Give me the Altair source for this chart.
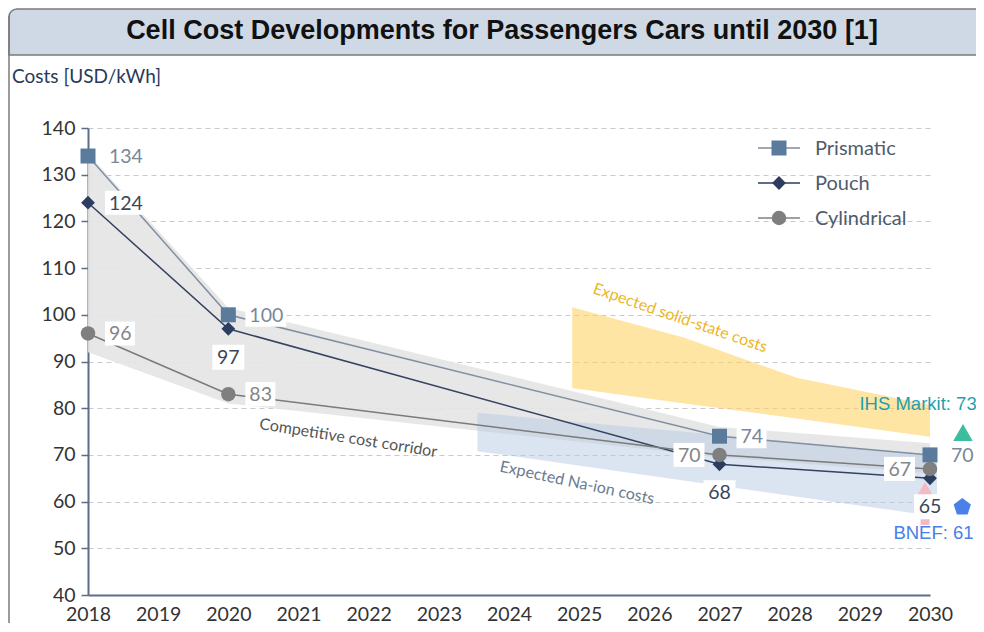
import altair as alt
import pandas as pd

# ---------------- data ----------------
years = [2018, 2020, 2027, 2030]
series = ["Prismatic", "Pouch", "Cylindrical"]
prismatic = [134, 100, 74, 70]
pouch = [124, 97, 68, 65]
cylindrical = [96, 83, 70, 67]
label_pos_prismatic = ["right", "right", "right", "right"]
label_pos_pouch = ["right", "below", "below", "below"]
label_pos_cylindrical = ["right", "right", "left", "left"]

# competitive cost corridor (grey band)
corr_years = [2018, 2020, 2027, 2030]
corr_upper = [134.5, 101.5, 76.0, 72.5]
corr_lower = [92.0, 81.0, 69.5, 66.0]

# expected solid-state costs (yellow band)
ss_years = [2024.9, 2026.5, 2028.1, 2030]
ss_upper = [101.6, 95.1, 86.5, 80.7]
ss_lower = [84.3, 81.0, 77.8, 73.9]

# expected Na-ion costs (blue band)
na_years = [2023.55, 2030.1]
na_upper = [79.0, 70.0]
na_lower = [70.8, 56.8]

# external estimates
ext_sources = ["IHS Markit", "BNEF"]
ext_values = [73, 61]
ext_marker_year = [2030.47, 2030.46]
ext_marker_value = [74.8, 58.8]
ext_label_year = [2029.83, 2030.05]
ext_label_value = [80.9, 53.3]

# annotations
ann_text = ["Expected solid-state costs", "Competitive cost corridor", "Expected Na-ion costs"]
ann_year = [2026.44, 2021.71, 2024.97]
ann_value = [99.3, 73.6, 64.0]
ann_angle = [19, 9, 12]
ann_color = ["#ecb623", "#555555", "#6c7b90"]

x_ticks = list(range(2018, 2031))
y_ticks = list(range(40, 141, 10))

# ---------------- styles ----------------
W, H = 842, 467
FONT = "Lato"
line_colors = {"Prismatic": "#8090a2", "Pouch": "#34425f", "Cylindrical": "#7a7a7a"}
marker_colors = {"Prismatic": "#5b7b9c", "Pouch": "#2c3d60", "Cylindrical": "#7f7f7f"}
label_colors = {"Prismatic": "#7a8798", "Pouch": "#3c4757", "Cylindrical": "#858585"}
shapes = {"Prismatic": "square", "Pouch": "diamond", "Cylindrical": "circle"}
sizes = {"Prismatic": 225, "Pouch": 190, "Cylindrical": 210}

xs = alt.Scale(domain=[2018, 2030], nice=False, zero=False)
ys = alt.Scale(domain=[40, 140], nice=False, zero=False)

vals = {"Prismatic": prismatic, "Pouch": pouch, "Cylindrical": cylindrical}
poss = {"Prismatic": label_pos_prismatic, "Pouch": label_pos_pouch, "Cylindrical": label_pos_cylindrical}
rows = []
for s in series:
    for yr, v, p in zip(years, vals[s], poss[s]):
        rows.append({"series": s, "year": yr, "value": v, "label": str(v), "pos": p})
df = pd.DataFrame(rows)

X = alt.X("year:Q", scale=xs, axis=alt.Axis(values=x_ticks, format="d", title=None, grid=False,
                                             tickSize=0, labelPadding=10, labelFlush=False,
                                             labelOverlap=False))
Y = alt.Y("value:Q", scale=ys, axis=alt.Axis(values=y_ticks, title=None, grid=True, tickSize=7,
                                             labelPadding=6, labelFlush=False, labelOverlap=False))

one = pd.DataFrame({"a": [0]})
layers = []

# grid/axes base
layers.append(alt.Chart(df).mark_point(opacity=0).encode(x=X, y=Y))

# bands
corr_df = pd.DataFrame({"year": corr_years, "upper": corr_upper, "lower": corr_lower})
layers.append(alt.Chart(corr_df).mark_area(color="#e4e4e4", opacity=0.9).encode(
    x=alt.X("year:Q", scale=xs), y=alt.Y("upper:Q", scale=ys), y2="lower:Q"))
ss_df = pd.DataFrame({"year": ss_years, "upper": ss_upper, "lower": ss_lower})
layers.append(alt.Chart(ss_df).mark_area(color="#fdd467", opacity=0.6).encode(
    x=alt.X("year:Q", scale=xs), y=alt.Y("upper:Q", scale=ys), y2="lower:Q"))
na_df = pd.DataFrame({"year": na_years, "upper": na_upper, "lower": na_lower})
layers.append(alt.Chart(na_df).mark_area(color="#b8cbe6", opacity=0.5).encode(
    x=alt.X("year:Q", scale=xs), y=alt.Y("upper:Q", scale=ys), y2="lower:Q"))

# lines and markers
for s in series:
    sd = df[df.series == s]
    layers.append(alt.Chart(sd).mark_line(color=line_colors[s], strokeWidth=1.5).encode(
        x=alt.X("year:Q", scale=xs), y=alt.Y("value:Q", scale=ys)))
for s in series:
    sd = df[df.series == s]
    layers.append(alt.Chart(sd).mark_point(shape=shapes[s], filled=True, opacity=1,
                                           color=marker_colors[s], size=sizes[s]).encode(
        x=alt.X("year:Q", scale=xs), y=alt.Y("value:Q", scale=ys)))

# pink arrow at 2030
arrow_df = pd.DataFrame({"year": [2029.93], "top": [61.5], "bottom": [55.0], "head": [62.6]})
layers.append(alt.Chart(arrow_df).mark_rule(color="#f5b9c2", strokeWidth=9).encode(
    x=alt.X("year:Q", scale=xs), y=alt.Y("top:Q", scale=ys), y2="bottom:Q"))
layers.append(alt.Chart(arrow_df).mark_point(shape="triangle-up", filled=True, opacity=1,
                                             color="#f5b9c2", size=300).encode(
    x=alt.X("year:Q", scale=xs), y=alt.Y("head:Q", scale=ys)))

# label boxes and labels
box_geom = {
    ("right", 2): (17, 47, -12, 12), ("right", 3): (17, 58, -12, 12),
    ("left", 2): (-46, -15, -12, 12), ("left", 3): (-57, -15, -12, 12),
    ("below", 2): (-16, 16, 16, 41), ("below", 3): (-21, 21, 16, 41),
}
for (p, n), (x0, x1, y0, y1) in box_geom.items():
    layers.append(alt.Chart(df).transform_filter(
        f"datum.pos == '{p}' && length(datum.label) == {n}").mark_rect(
        color="white", xOffset=x0, x2Offset=x1, yOffset=y0, y2Offset=y1).encode(
        x=alt.X("year:Q", scale=xs), x2="year:Q", y=alt.Y("value:Q", scale=ys), y2="value:Q"))

text_geom = {"right": ("left", 21, 1), "left": ("right", -19, 1), "below": ("center", 0, 29)}
for s in series:
    for p, (al, dx, dy) in text_geom.items():
        layers.append(alt.Chart(df).transform_filter(
            f"datum.series == '{s}' && datum.pos == '{p}'").mark_text(
            align=al, baseline="middle", dx=dx, dy=dy, font=FONT, fontSize=19.5,
            color=label_colors[s]).encode(
            x=alt.X("year:Q", scale=xs), y=alt.Y("value:Q", scale=ys), text="label:N"))

# external estimates
ext_df = pd.DataFrame({"source": ext_sources, "v": ext_values, "mx": ext_marker_year,
                       "my": ext_marker_value, "lx": ext_label_year, "ly": ext_label_value})
ext_df["text"] = ext_df["source"] + ": " + ext_df["v"].astype(str)
layers.append(alt.Chart(ext_df.iloc[[0]]).mark_point(shape="triangle-up", filled=True, opacity=1,
                                                     color="#3dbd9f", size=380).encode(
    x=alt.X("mx:Q", scale=xs), y=alt.Y("my:Q", scale=ys)))
pent = "M0,-1L0.951,-0.309L0.588,0.809L-0.588,0.809L-0.951,-0.309Z"
layers.append(alt.Chart(ext_df.iloc[[1]]).mark_point(shape=pent, filled=True, opacity=1,
                                                     color="#4a80e8", size=330).encode(
    x=alt.X("mx:Q", scale=xs), y=alt.Y("my:Q", scale=ys)))
layers.append(alt.Chart(ext_df.iloc[[0]]).mark_text(font="Liberation Sans", fontSize=18.5,
                                                    color="#1f9fae").encode(
    x=alt.X("lx:Q", scale=xs), y=alt.Y("ly:Q", scale=ys), text="text:N"))
layers.append(alt.Chart(ext_df.iloc[[1]]).mark_text(font="Liberation Sans", fontSize=18.5,
                                                    color="#4a80e8").encode(
    x=alt.X("lx:Q", scale=xs), y=alt.Y("ly:Q", scale=ys), text="text:N"))

# annotations
for t, yr, v, a, c in zip(ann_text, ann_year, ann_value, ann_angle, ann_color):
    adf = pd.DataFrame({"year": [yr], "value": [v], "t": [t]})
    layers.append(alt.Chart(adf).mark_text(font=FONT, fontSize=16, angle=a, color=c).encode(
        x=alt.X("year:Q", scale=xs), y=alt.Y("value:Q", scale=ys), text="t:N"))

# legend (manual)
legend_line_colors = {"Prismatic": "#7f8c9a", "Pouch": "#2d3d5c", "Cylindrical": "#808080"}
for i, s in enumerate(series):
    yy = 20 + 35 * i
    layers.append(alt.Chart(one).mark_rule(color=legend_line_colors[s], strokeWidth=1.5).encode(
        x=alt.value(670), x2=alt.value(712), y=alt.value(yy)))
    layers.append(alt.Chart(one).mark_point(shape=shapes[s], filled=True, opacity=1,
                                            color=marker_colors[s], size=sizes[s]).encode(
        x=alt.value(691), y=alt.value(yy)))
    layers.append(alt.Chart(one).mark_text(align="left", baseline="middle", font=FONT, fontSize=20,
                                           color="#4f5b6c").encode(
        x=alt.value(727), y=alt.value(yy + 1), text=alt.value(s)))

# frame, title band, title, axis title
layers.append(alt.Chart(one).mark_rect(fill="#cfd9e5", stroke="#7a7a7a", strokeWidth=1.5,
                                       cornerRadiusTopLeft=8).encode(
    x=alt.value(-79), x2=alt.value(905), y=alt.value(-119), y2=alt.value(-73)))
layers.append(alt.Chart(one).mark_rule(color="#7a7a7a", strokeWidth=1.5).encode(
    x=alt.value(-79), y=alt.value(-112), y2=alt.value(520)))
layers.append(alt.Chart(one).mark_text(font="Liberation Sans", fontWeight="bold", fontSize=27,
                                       color="#111111", baseline="middle").encode(
    x=alt.value(414), y=alt.value(-97),
    text=alt.value("Cell Cost Developments for Passengers Cars until 2030 [1]")))
layers.append(alt.Chart(one).mark_text(font=FONT, fontSize=19, color="#27395a", align="left",
                                       baseline="middle").encode(
    x=alt.value(-76), y=alt.value(-51), text=alt.value("Costs [USD/kWh]")))

chart = alt.layer(*layers).properties(
    width=W, height=H,
    autosize=alt.AutoSizeParams(type="none"),
    padding={"left": 80, "top": 120, "right": 46, "bottom": 28},
).configure_view(stroke=None).configure_axis(
    labelFont=FONT, labelFontSize=19.5, labelColor="#333333",
    domainColor="#5a6e86", domainWidth=2, tickColor="#5a6e86", tickWidth=1.5,
    gridColor="#c9c9c9", gridDash=[5, 4], gridWidth=1,
)

chart.save("out.html", embed_options={"renderer": "svg", "actions": False})
